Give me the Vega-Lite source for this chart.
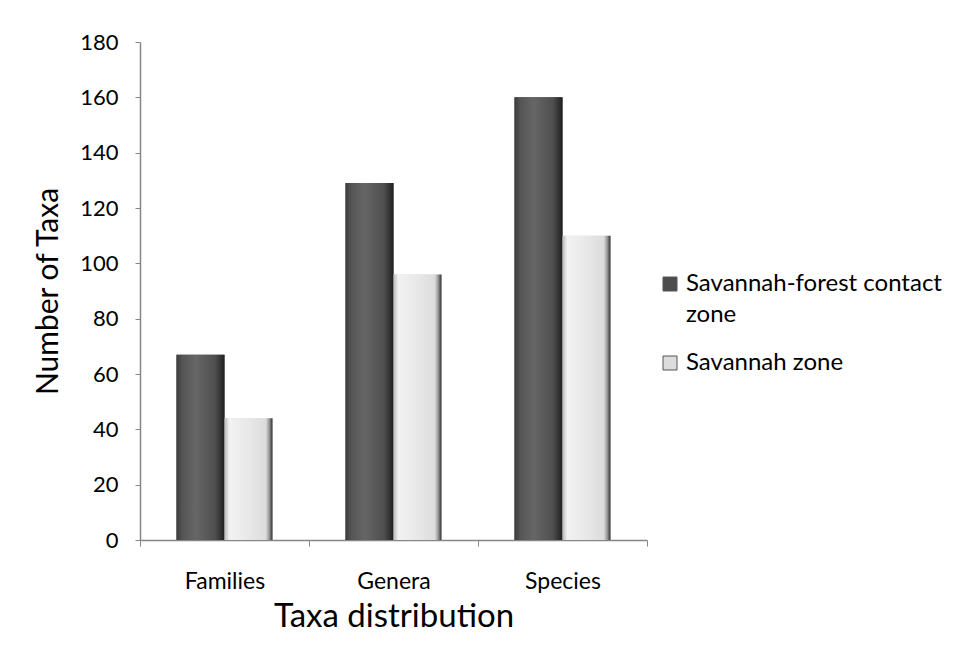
{
  "$schema": "https://vega.github.io/schema/vega-lite/v6.json",
  "width": 507,
  "height": 498,
  "autosize": {"type": "none"},
  "padding": {"left": 140, "top": 42, "right": 310, "bottom": 108},
  "background": "white",
  "config": {
    "view": {"stroke": null},
    "font": "Lato",
    "axis": {"domainColor": "#868686", "tickColor": "#868686", "labelColor": "#000", "titleColor": "#000", "grid": false, "labelFont": "Lato", "titleFont": "Lato", "titleFontWeight": "normal"},
    "legend": {"labelFont": "Lato"}
  },
  "data": {
    "values": [
      {"taxa": "Families", "zone": "Savannah-forest contact zone", "count": 67},
      {"taxa": "Families", "zone": "Savannah zone", "count": 44},
      {"taxa": "Genera", "zone": "Savannah-forest contact zone", "count": 129},
      {"taxa": "Genera", "zone": "Savannah zone", "count": 96},
      {"taxa": "Species", "zone": "Savannah-forest contact zone", "count": 160},
      {"taxa": "Species", "zone": "Savannah zone", "count": 110}
    ]
  },
  "encoding": {
    "x": {
      "field": "taxa", "type": "nominal", "sort": ["Families", "Genera", "Species"],
      "scale": {"paddingInner": 0, "paddingOuter": 0},
      "axis": {"title": "Taxa distribution", "labelAngle": 0, "tickBand": "extent", "tickSize": 6, "labelPadding": 24, "labelFontSize": 23, "titleFontSize": 33, "titleY": 76, "titleBaseline": "middle", "domainWidth": 1.5}
    },
    "xOffset": {"field": "zone", "type": "nominal", "sort": ["Savannah-forest contact zone", "Savannah zone"], "scale": {"paddingOuter": 0.76, "paddingInner": 0}},
    "y": {
      "field": "count", "type": "quantitative",
      "scale": {"domain": [0, 180], "nice": false},
      "axis": {"title": "Number of Taxa", "values": [0, 20, 40, 60, 80, 100, 120, 140, 160, 180], "tickSize": 5, "labelPadding": 17, "labelFontSize": 22, "titleFontSize": 30, "titleX": -92, "titleY": 249, "titleAngle": -90, "titleBaseline": "middle", "titleAlign": "center", "domainWidth": 1.5}
    }
  },
  "layer": [
    {
      "mark": {"type": "bar"},
      "encoding": {
        "color": {
          "field": "zone", "type": "nominal", "sort": ["Savannah-forest contact zone", "Savannah zone"],
          "scale": {"range": ["#4d4d4d", "#dcdcdc"]},
          "legend": {"title": null, "orient": "none", "legendX": 518, "legendY": 230, "symbolType": "square", "symbolSize": 196, "symbolStrokeColor": "#555", "symbolStrokeWidth": 1, "labelFontSize": 24, "labelExpr": "datum.label == 'Savannah-forest contact zone' ? ['Savannah-forest contact', 'zone'] : datum.label", "labelLimit": 400, "rowPadding": 24, "labelOffset": 4, "labelBaseline": "middle", "encode": {"labels": {"update": {"lineHeight": {"value": 31}}}}}
        }
      }
    },
    {
      "mark": {"type": "bar"},
      "encoding": {
        "fill": {
          "condition": {"test": "datum.zone == 'Savannah zone'", "value": {"gradient": "linear", "x1": 0, "y1": 0, "x2": 1, "y2": 0, "stops": [{"offset": 0, "color": "#b8b8b8"}, {"offset": 0.1, "color": "#f2f2f2"}, {"offset": 0.5, "color": "#e8e8e8"}, {"offset": 0.86, "color": "#dcdcdc"}, {"offset": 0.93, "color": "#9a9a9a"}, {"offset": 1, "color": "#2e2e2e"}]}},
          "value": {"gradient": "linear", "x1": 0, "y1": 0, "x2": 1, "y2": 0, "stops": [{"offset": 0, "color": "#3c3c3c"}, {"offset": 0.12, "color": "#555555"}, {"offset": 0.4, "color": "#666666"}, {"offset": 0.8, "color": "#4f4f4f"}, {"offset": 0.92, "color": "#333333"}, {"offset": 1, "color": "#1e1e1e"}]}
        }
      }
    }
  ]
}
